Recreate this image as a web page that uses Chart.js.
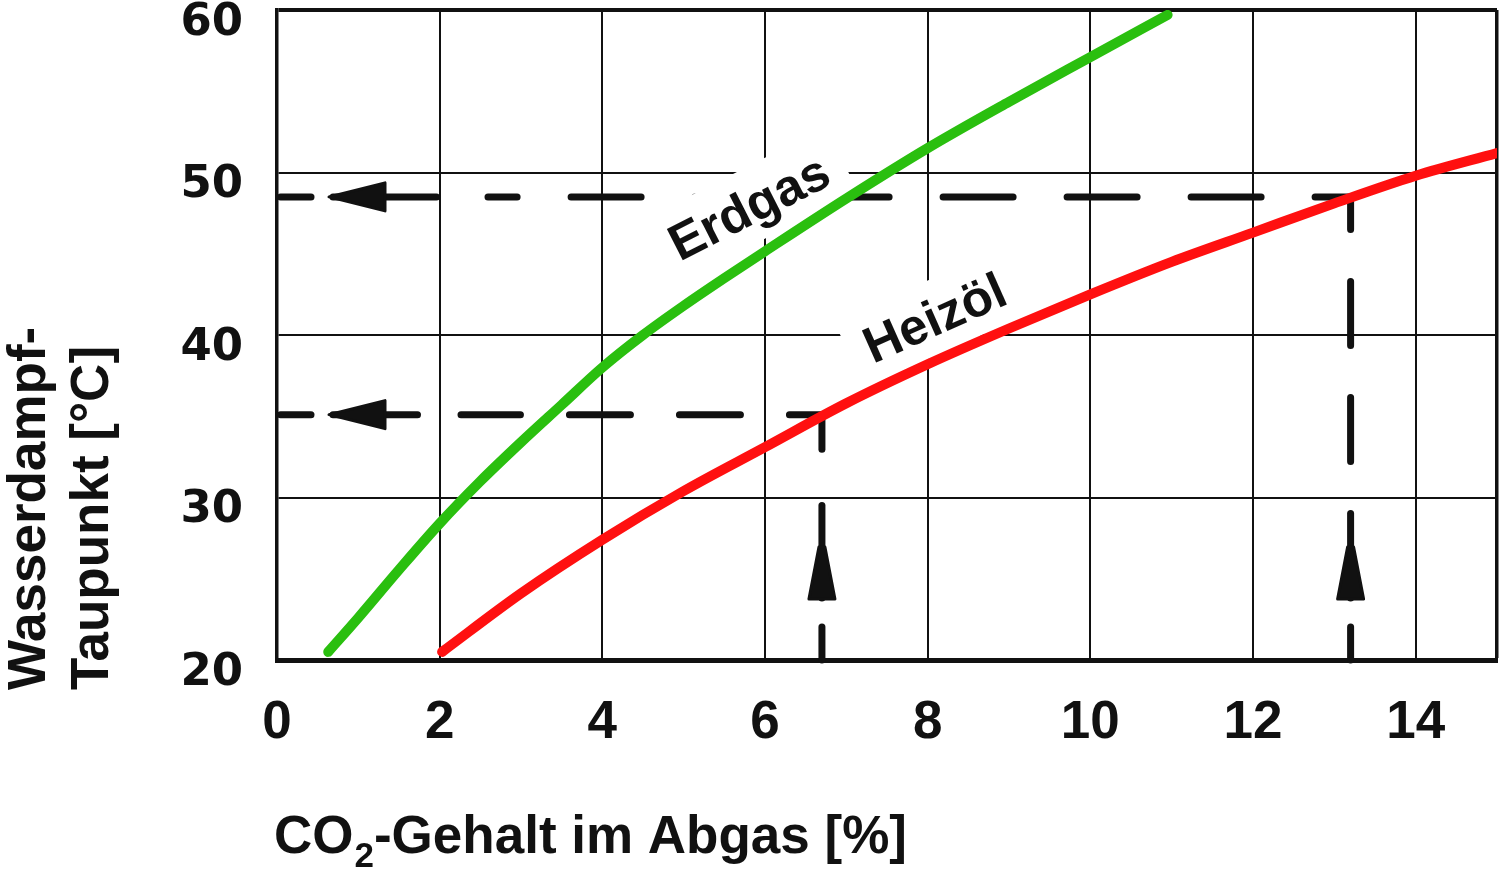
<!DOCTYPE html>
<html>
<head>
<meta charset="utf-8">
<script src="https://cdn.jsdelivr.net/npm/chart.js@4.4.1/dist/chart.umd.min.js"></script>
<style>
  html, body { margin: 0; background: #fff; }
  #wrap { width: 1500px; height: 870px; }
</style>
</head>
<body>
<div id="wrap"><canvas id="taupunkt"></canvas></div>
<script>
// Erdgas (gruen): CO2-Gehalt [%] -> Taupunkt [°C]
const erdgasCO2 = [0.63, 1.0, 1.5, 2.0, 2.5, 3.0, 3.5, 4.0, 4.5, 5.0, 5.5, 6.0, 7.0, 8.0, 9.0, 10.0, 10.95];
const erdgasTaupunkt = [20.5, 22.6, 25.55, 28.4, 31.0, 33.4, 35.7, 38.0, 40.0, 41.8, 43.5, 45.15, 48.4, 51.5, 54.35, 57.1, 59.7];

// Heizoel (rot)
const heizoelCO2 = [2.03, 3, 4, 5, 6, 7, 8, 9, 10, 11, 12, 13, 14, 15];
const heizoelTaupunkt = [20.5, 24.1, 27.4, 30.4, 33.1, 35.8, 38.2, 40.4, 42.5, 44.5, 46.3, 48.1, 49.8, 51.2];

// Ablesebeispiele (gestrichelt)
const beispielCO2 = [6.7, 13.2];
const beispielTaupunkt = [35.1, 48.5];

// Achsen
const xTicks = [0, 2, 4, 6, 8, 10, 12, 14, 15];
const yTicks = [20, 30, 40, 50, 60];

const INK = '#111';
const GRUEN = '#2abf0f';
const ROT = '#ff1010';

const pts = (xs, ys) => xs.map((v, i) => ({ x: v, y: ys[i] }));

function seg(ctx, x0, y0, x1, y1) {
  ctx.beginPath();
  ctx.moveTo(x0, y0);
  ctx.lineTo(x1, y1);
  ctx.stroke();
}

// gestrichelte Hilfslinien mit Pfeilen
const guidePlugin = {
  id: 'guides',
  beforeDatasetsDraw(chart, args, opts) {
    const { ctx, scales: { x, y } } = chart;
    const x0 = x.getPixelForValue(0);
    const yb = y.getPixelForValue(20);
    ctx.save();
    ctx.strokeStyle = INK;
    ctx.fillStyle = INK;
    ctx.lineWidth = 7;
    ctx.lineCap = 'round';
    ctx.lineJoin = 'round';
    opts.styles.forEach((g, i) => {
      const px = x.getPixelForValue(beispielCO2[i]);
      const py = y.getPixelForValue(beispielTaupunkt[i]);

      // waagerecht, von der Ecke nach links
      ctx.setLineDash([g.h[0] - 7, g.h[1] + 7]);
      ctx.lineDashOffset = (g.h[0] - 7) - (g.h[2] - 3.5);
      seg(ctx, px, py, x0 + g.hStop, py);
      ctx.setLineDash([]);
      seg(ctx, x0 + 56, py, x0 + g.hSolid - 3.5, py);
      seg(ctx, x0 + 3.5, py, x0 + 34, py);
      ctx.beginPath();
      ctx.moveTo(x0 + 52, py);
      ctx.lineTo(x0 + 108, py - 14);
      ctx.lineTo(x0 + 108, py + 14);
      ctx.closePath();
      ctx.fill();
      ctx.lineWidth = 3;
      ctx.stroke();
      ctx.lineWidth = 7;

      // senkrecht, von der Ecke nach unten
      ctx.setLineDash([g.v[0] - 7, g.v[1] + 7]);
      ctx.lineDashOffset = (g.v[0] - 7) - (g.v[2] - 3.5);
      seg(ctx, px, py, px, yb - g.vStop);
      ctx.setLineDash([]);
      seg(ctx, px, yb - g.vSolid + 3.5, px, yb - 62);
      seg(ctx, px, yb - 33, px, yb);
      ctx.beginPath();
      ctx.moveTo(px - 3, yb - 113);
      ctx.lineTo(px + 3, yb - 113);
      ctx.lineTo(px + 13, yb - 61);
      ctx.lineTo(px - 13, yb - 61);
      ctx.closePath();
      ctx.fill();
      ctx.lineWidth = 3;
      ctx.stroke();
      ctx.lineWidth = 7;
    });
    ctx.restore();
  }
};

// Kurvenbeschriftung mit weissem Hintergrund
const labelPlugin = {
  id: 'curveLabels',
  beforeDatasetsDraw(chart, args, opts) {
    const { ctx, scales: { x, y } } = chart;
    ctx.save();
    ctx.font = 'bold 51px "Liberation Sans", Arial, sans-serif';
    ctx.textAlign = 'center';
    ctx.textBaseline = 'middle';
    opts.items.forEach(l => {
      const w = ctx.measureText(l.text).width;
      ctx.save();
      ctx.translate(x.getPixelForValue(l.x), y.getPixelForValue(l.y));
      ctx.rotate(l.angle * Math.PI / 180);
      ctx.fillStyle = '#fff';
      ctx.fillRect(-w / 2 - 18, -38, w + 36, 72);
      ctx.fillStyle = INK;
      ctx.fillText(l.text, 0, 2);
      ctx.restore();
    });
    ctx.restore();
  }
};

// Achsentitel (mit tiefgestellter 2)
const titlePlugin = {
  id: 'axisTitles',
  afterDraw(chart) {
    const { ctx, chartArea } = chart;
    ctx.save();
    ctx.fillStyle = INK;
    ctx.textAlign = 'left';
    ctx.textBaseline = 'alphabetic';

    const big = 'bold 53px "Liberation Sans", Arial, sans-serif';
    const small = 'bold 35px "Liberation Sans", Arial, sans-serif';
    let tx = chartArea.left - 3;
    const base = 853;
    ctx.font = big;
    ctx.fillText('CO', tx, base);
    tx += ctx.measureText('CO').width + 1;
    ctx.font = small;
    ctx.fillText('2', tx, base + 14);
    tx += ctx.measureText('2').width;
    ctx.font = big;
    ctx.fillText('-Gehalt im Abgas [%]', tx, base);

    ctx.font = big;
    ['Wasserdampf-', 'Taupunkt [°C]'].forEach((t, i) => {
      ctx.save();
      ctx.translate(45 + i * 63, 690);
      ctx.rotate(-Math.PI / 2);
      ctx.fillText(t, 0, 0);
      ctx.restore();
    });
    ctx.restore();
  }
};

new Chart(document.getElementById('taupunkt'), {
  type: 'line',
  data: {
    datasets: [
      {
        label: 'Erdgas',
        data: pts(erdgasCO2, erdgasTaupunkt),
        borderColor: GRUEN,
        borderWidth: 10,
        borderCapStyle: 'round',
        pointRadius: 0,
        cubicInterpolationMode: 'monotone',
        fill: false
      },
      {
        label: 'Heizöl',
        data: pts(heizoelCO2, heizoelTaupunkt),
        borderColor: ROT,
        borderWidth: 10,
        borderCapStyle: 'round',
        pointRadius: 0,
        cubicInterpolationMode: 'monotone',
        fill: false
      }
    ]
  },
  options: {
    responsive: true,
    maintainAspectRatio: false,
    animation: false,
    layout: { padding: { top: 10, right: 3, left: 0, bottom: 0 } },
    plugins: {
      legend: { display: false },
      tooltip: { enabled: false },
      guides: {
        styles: [
          { h: [68, 42, 36], hStop: 184, hSolid: 144, v: [71, 45, 38], vStop: 207, vSolid: 158 },
          { h: [77, 47, 39], hStop: 211, hSolid: 163, v: [71, 45, 36], vStop: 195, vSolid: 150 }
        ]
      },
      curveLabels: {
        items: [
          { text: 'Erdgas', x: 5.81, y: 47.8, angle: -27 },
          { text: 'Heizöl', x: 8.09, y: 41.0, angle: -24 }
        ]
      }
    },
    scales: {
      x: {
        type: 'linear',
        min: 0,
        max: 15,
        afterBuildTicks: s => { s.ticks = xTicks.map(v => ({ value: v })); },
        afterFit: s => { s.height = 210; s.paddingLeft = 0; s.paddingRight = 0; },
        ticks: {
          callback: v => (v === 15 ? '' : v),
          autoSkip: false,
          maxRotation: 0,
          padding: 32,
          color: INK,
          font: { family: '"Liberation Sans", Arial, sans-serif', size: 53, weight: 'bold', lineHeight: 1.2 }
        },
        grid: {
          color: INK,
          drawTicks: false,
          lineWidth: c => (c.tick && c.tick.value === 15 ? 3.5 : 2)
        },
        border: { color: INK, width: 5 }
      },
      y: {
        type: 'linear',
        min: 20,
        max: 60,
        afterBuildTicks: s => { s.ticks = yTicks.map(v => ({ value: v })); },
        afterFit: s => { s.width = 277; s.paddingTop = 0; s.paddingBottom = 0; },
        ticks: {
          padding: 34,
          labelOffset: 13,
          color: INK,
          font: { family: '"DejaVu Sans", sans-serif', size: 45, weight: 'bold' }
        },
        grid: {
          color: INK,
          drawTicks: false,
          lineWidth: c => (c.tick && c.tick.value === 60 ? 4 : 2)
        },
        border: { color: INK, width: 3.5 }
      }
    }
  },
  plugins: [guidePlugin, labelPlugin, titlePlugin]
});
</script>
</body>
</html>
